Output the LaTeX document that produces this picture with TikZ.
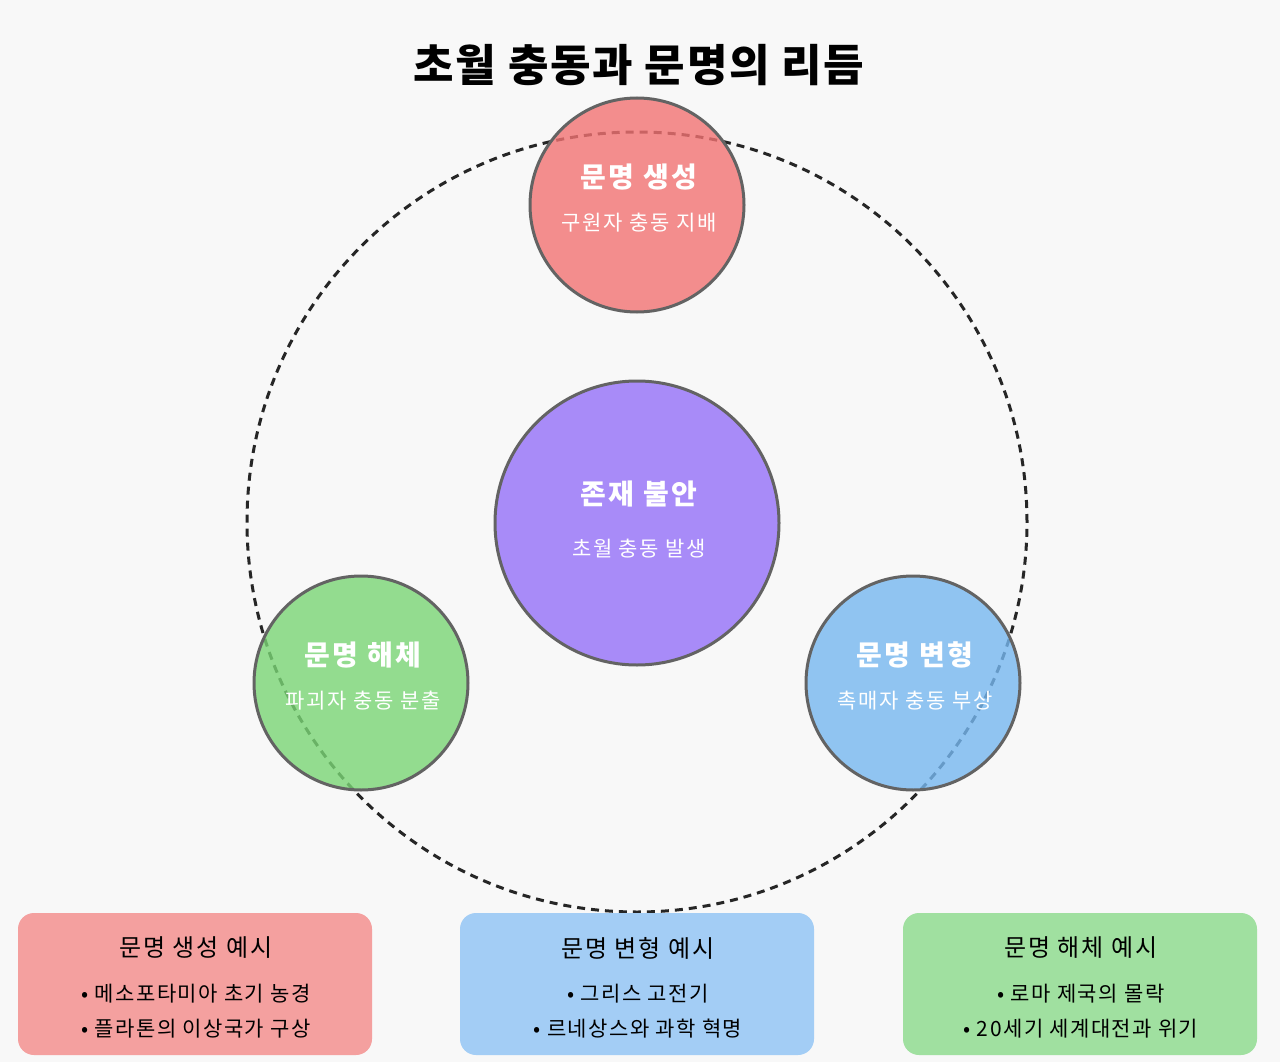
\documentclass[tikz,border=0pt]{standalone}
\usepackage{fontspec}
\newfontfamily\kr{Noto Sans CJK KR}
\begin{document}
\begin{tikzpicture}[x=1pt,y=-1pt,
  bubble/.style={circle, draw=bordergray, line width=3pt, fill opacity=0.8, inner sep=0pt},
  ctitle/.style={text=white, font=\kr\fontsize{28}{30}\selectfont\bfseries\addfontfeature{LetterSpace=8}},
  csub/.style={text=white, font=\kr\fontsize{21}{24}\selectfont\addfontfeature{LetterSpace=8}},
  card/.style={rounded corners=16pt, minimum width=354pt, minimum height=142pt, inner sep=0pt},
  btitle/.style={text=black, font=\kr\fontsize{24}{26}\selectfont\addfontfeature{LetterSpace=8}},
  bitem/.style={text=black, font=\kr\fontsize{21}{24}\selectfont\addfontfeature{LetterSpace=7}},
  ring/.style={draw=black!85, line width=3pt, dash pattern=on 8pt off 6pt}]
\definecolor{bg}{HTML}{F8F8F8}
\definecolor{bordergray}{HTML}{636363}
\definecolor{cred}{HTML}{F27373}
\definecolor{cpurple}{HTML}{9570F8}
\definecolor{cgreen}{HTML}{7AD575}
\definecolor{cblue}{HTML}{76B7F0}
\definecolor{bred}{HTML}{F4A09F}
\definecolor{bblue}{HTML}{A3CDF5}
\definecolor{bgreen}{HTML}{A0E0A0}
\fill[bg] (0,0) rectangle (1280,1062);
\useasboundingbox (0,0) rectangle (1280,1062);
\node[text=black, font=\kr\fontsize{44}{46}\selectfont\bfseries\addfontfeature{LetterSpace=4}] (title) at (639,65) {초월 충동과 문명의 리듬};
% cycle ring
\node[circle, ring, minimum size=780pt, inner sep=0pt] (ring) at (637,522) {};
% bubbles
\node[bubble, fill=cred, minimum size=214pt] (gen) at (637,205) {};
\node[ctitle] (gent) at (639,177) {문명 생성};
\node[csub] (gens) at (639,223) {구원자 충동 지배};
\node[bubble, fill=cpurple, minimum size=284pt] (core) at (637,523) {};
\node[ctitle] (coret) at (639,494) {존재 불안};
\node[csub] (cores) at (639,549) {초월 충동 발생};
\node[bubble, fill=cgreen, minimum size=214pt] (dis) at (361,683) {};
\node[ctitle] (dist) at (363,655) {문명 해체};
\node[csub] (diss) at (363,701) {파괴자 충동 분출};
\node[bubble, fill=cblue, minimum size=214pt] (tra) at (913,683) {};
\node[ctitle] (trat) at (915,655) {문명 변형};
\node[csub] (tras) at (915,701) {촉매자 충동 부상};
% cards
\node[card, fill=bred] (c1) at (195,984) {};
\node[btitle] (c1t) at (196,948) {문명 생성 예시};
\node[bitem] (c1a) at (196,994) {• 메소포타미아 초기 농경};
\node[bitem] (c1b) at (196,1029) {• 플라톤의 이상국가 구상};
\node[card, fill=bblue] (c2) at (637,984) {};
\node[btitle] (c2t) at (638,948) {문명 변형 예시};
\node[bitem] (c2a) at (638,994) {• 그리스 고전기};
\node[bitem] (c2b) at (638,1029) {• 르네상스와 과학 혁명};
\node[card, fill=bgreen] (c3) at (1080,984) {};
\node[btitle] (c3t) at (1081,948) {문명 해체 예시};
\node[bitem] (c3a) at (1081,994) {• 로마 제국의 몰락};
\node[bitem] (c3b) at (1081,1029) {• 20세기 세계대전과 위기};
\end{tikzpicture}
\end{document}
